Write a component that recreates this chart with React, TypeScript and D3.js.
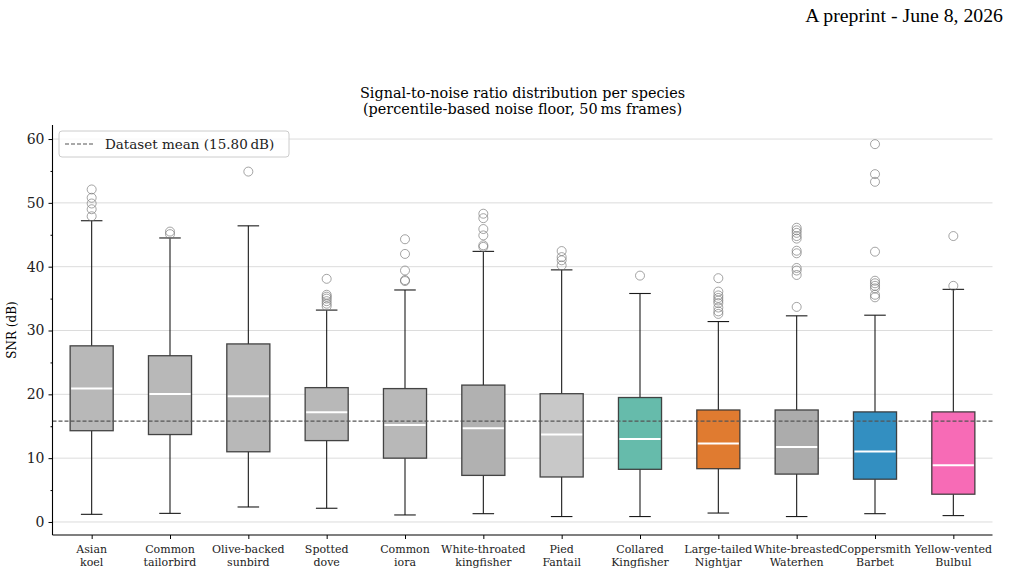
import { useEffect, useRef } from 'react';
import * as d3 from 'd3';

const species = [
  'Asian\nkoel', 'Common\ntailorbird', 'Olive-backed\nsunbird', 'Spotted\ndove', 'Common\niora',
  'White-throated\nkingfisher', 'Pied\nFantail', 'Collared\nKingfisher', 'Large-tailed\nNightjar',
  'White-breasted\nWaterhen', 'Coppersmith\nBarbet', 'Yellow-vented\nBulbul',
];
const q1 = [14.3, 13.7, 11.0, 12.75, 10.0, 7.3, 7.05, 8.25, 8.35, 7.5, 6.7, 4.35];
const medians = [20.9, 20.05, 19.7, 17.2, 15.2, 14.7, 13.7, 13.0, 12.3, 11.75, 11.05, 8.9];
const q3 = [27.6, 26.05, 27.9, 21.05, 20.9, 21.45, 20.1, 19.5, 17.55, 17.55, 17.25, 17.25];
const whiskLow = [1.2, 1.35, 2.35, 2.15, 1.1, 1.3, 0.85, 0.85, 1.4, 0.85, 1.3, 1.0];
const whiskHigh = [47.2, 44.5, 46.4, 33.2, 36.35, 42.4, 39.5, 35.8, 31.4, 32.3, 32.4, 36.45];
const outliers = [
  [52.1, 50.8, 49.9, 49.0, 47.9],
  [45.5, 45.1],
  [54.9],
  [38.1, 35.6, 35.3, 35.0, 34.6, 34.2, 33.8],
  [44.3, 42.0, 39.4, 37.9, 37.75],
  [48.3, 47.6, 45.9, 44.9, 43.35, 43.1],
  [42.45, 41.5, 41.0, 40.2],
  [38.6],
  [38.2, 36.1, 35.5, 35.1, 34.7, 34.3, 33.6, 33.0, 32.6],
  [46.1, 45.7, 45.3, 44.8, 44.4, 42.5, 42.1, 39.8, 39.4, 38.7, 33.7],
  [59.2, 54.5, 53.3, 42.35, 37.8, 37.4, 37.0, 36.6, 35.6, 35.2],
  [44.8, 37.0],
];
const colors = [
  '#b8b8b8', '#b8b8b8', '#b8b8b8', '#b8b8b8', '#b8b8b8', '#b1b1b1',
  '#c8c8c8', '#66bbab', '#e07b30', '#acacac', '#338fc1', '#f76bb6',
];
const datasetMean = 15.8;
const yTicks = [0, 10, 20, 30, 40, 50, 60];

const App = () => {
  const svgRef = useRef<SVGSVGElement>(null);

  useEffect(() => {
    const svg = d3.select(svgRef.current);
    svg.selectAll('*').remove();

    const left = 52.5, right = 992.5, top = 125, bottom = 535;
    const font = '"DejaVu Serif", serif';

    const x = d3.scaleLinear().domain([0.5, 12.5]).range([left, right]);
    const y = d3.scaleLinear().domain([-2.04, 62.2]).range([bottom, top]);
    const step = x(2) - x(1);
    const boxW = step * 0.55;
    const capW = boxW / 2;

    // header
    svg.append('text')
      .attr('x', 1003).attr('y', 22)
      .attr('text-anchor', 'end')
      .style('font-family', '"Liberation Serif", serif')
      .style('font-size', '19.8px')
      .text('A preprint - June 8, 2026');

    // title
    const title = svg.append('text')
      .attr('text-anchor', 'middle')
      .style('font-family', font)
      .style('font-size', '14.4px');
    title.append('tspan').attr('x', (left + right) / 2).attr('y', 98).text('Signal-to-noise ratio distribution per species');
    title.append('tspan').attr('x', (left + right) / 2).attr('y', 114).text('(percentile-based noise floor, 50\u2009ms frames)');

    // grid
    svg.append('g')
      .selectAll('line')
      .data(yTicks)
      .enter()
      .append('line')
      .attr('x1', left).attr('x2', right)
      .attr('y1', d => y(d)).attr('y2', d => y(d))
      .attr('stroke', '#dcdcdc')
      .attr('stroke-width', 1);

    // boxes
    const g = svg.append('g');
    species.forEach((_, i) => {
      const cx = x(i + 1);
      const line = (x1: number, y1: number, x2: number, y2: number) =>
        g.append('line')
          .attr('x1', x1).attr('y1', y1).attr('x2', x2).attr('y2', y2)
          .attr('stroke', '#1a1a1a').attr('stroke-width', 1.1);
      line(cx, y(q3[i]), cx, y(whiskHigh[i]));
      line(cx, y(q1[i]), cx, y(whiskLow[i]));
      line(cx - capW / 2, y(whiskHigh[i]), cx + capW / 2, y(whiskHigh[i]));
      line(cx - capW / 2, y(whiskLow[i]), cx + capW / 2, y(whiskLow[i]));

      g.append('rect')
        .attr('x', cx - boxW / 2)
        .attr('y', y(q3[i]))
        .attr('width', boxW)
        .attr('height', y(q1[i]) - y(q3[i]))
        .attr('fill', colors[i])
        .attr('stroke', '#333')
        .attr('stroke-opacity', 0.9)
        .attr('stroke-width', 1.3);

      g.append('line')
        .attr('x1', cx - boxW / 2 + 1).attr('x2', cx + boxW / 2 - 1)
        .attr('y1', y(medians[i])).attr('y2', y(medians[i]))
        .attr('stroke', '#fff').attr('stroke-width', 2);

      g.selectAll(null)
        .data(outliers[i])
        .enter()
        .append('circle')
        .attr('cx', cx)
        .attr('cy', d => y(d))
        .attr('r', 4.5)
        .attr('fill', 'none')
        .attr('stroke', '#777')
        .attr('stroke-opacity', 0.75)
        .attr('stroke-width', 0.9);
    });

    // mean line
    svg.append('line')
      .attr('x1', left).attr('x2', right)
      .attr('y1', y(datasetMean)).attr('y2', y(datasetMean))
      .attr('stroke', '#555')
      .attr('stroke-width', 1.1)
      .attr('stroke-dasharray', '4,2');

    // axes
    const yAxis = svg.append('g')
      .attr('transform', `translate(${left},0)`)
      .call(d3.axisLeft(y).tickValues(yTicks).tickSize(4).tickPadding(4).tickSizeOuter(0));
    yAxis.select('.domain').remove();
    yAxis.selectAll('text').style('font-family', font).style('font-size', '14px').attr('fill', '#222');
    svg.append('g')
      .attr('transform', `translate(${left},0)`)
      .call(d3.axisLeft(y).tickValues([5, 15, 25, 35, 45, 55]).tickSize(2).tickFormat(() => ''))
      .select('.domain').remove();
    svg.append('line')
      .attr('x1', left).attr('x2', left).attr('y1', top).attr('y2', bottom)
      .attr('stroke', '#000').attr('stroke-width', 1.1);

    const xAxis = svg.append('g')
      .attr('transform', `translate(0,${bottom})`)
      .call(d3.axisBottom(x).tickValues(d3.range(1, 13)).tickSize(4).tickFormat(() => ''));
    xAxis.select('.domain').remove();
    svg.append('line')
      .attr('x1', left).attr('x2', right).attr('y1', bottom).attr('y2', bottom)
      .attr('stroke', '#000').attr('stroke-width', 1.1);

    species.forEach((name, i) => {
      const t = svg.append('text')
        .attr('text-anchor', 'middle')
        .style('font-family', font)
        .style('font-size', '11px')
        .attr('fill', '#222');
      name.split('\n').forEach((part, j) => {
        t.append('tspan').attr('x', x(i + 1)).attr('y', 553 + j * 13).text(part);
      });
    });

    svg.append('text')
      .attr('transform', `translate(16,${(top + bottom) / 2}) rotate(-90)`)
      .attr('text-anchor', 'middle')
      .style('font-family', font)
      .style('font-size', '12px')
      .text('SNR (dB)');

    // legend
    const legend = svg.append('g').attr('transform', 'translate(59,131)');
    legend.append('rect')
      .attr('width', 230).attr('height', 26).attr('rx', 3)
      .attr('fill', '#fff').attr('fill-opacity', 0.8)
      .attr('stroke', '#ccc');
    legend.append('line')
      .attr('x1', 6).attr('x2', 34).attr('y1', 13).attr('y2', 13)
      .attr('stroke', '#555').attr('stroke-width', 1.1).attr('stroke-dasharray', '4,2');
    legend.append('text')
      .attr('x', 46).attr('y', 18)
      .style('font-family', font)
      .style('font-size', '13.5px')
      .attr('fill', '#222')
      .text('Dataset mean (15.80\u2009dB)');
  }, []);

  return <svg ref={svgRef} width={1010} height={576} style={{ display: 'block', position: 'absolute', left: 0, top: 0 }} />;
};

export default App;
